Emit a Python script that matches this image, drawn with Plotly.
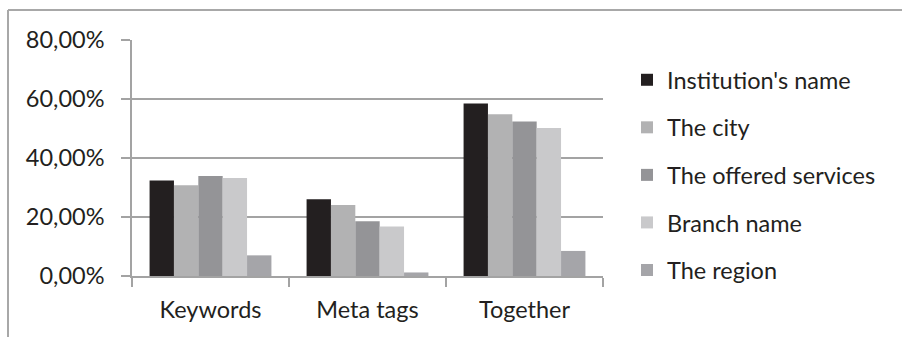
import plotly.graph_objects as go

# Share of institutions by where each item appears
categories = ["Keywords", "Meta tags", "Together"]
series_names = ["Institution's name", "The city", "The offered services",
                "Branch name", "The region"]
values = {
    "Institution's name": [32.4, 26.0, 58.5],
    "The city": [30.8, 24.1, 54.8],
    "The offered services": [33.9, 18.6, 52.4],
    "Branch name": [33.2, 16.8, 50.2],
    "The region": [7.0, 1.2, 8.5],
}
colors = {
    "Institution's name": "#231f20",
    "The city": "#b2b2b3",
    "The offered services": "#949497",
    "Branch name": "#c9c9cb",
    "The region": "#a5a5a9",
}
y_ticks = [0, 20, 40, 60, 80]
y_tick_text = ["0,00%", "20,00%", "40,00%", "60,00%", "80,00%"]

FONT = "Lato, 'Open Sans', sans-serif"
FS = 23.5
TEXT = "#231f20"
GRID = "#a3a3a3"

fig = go.Figure()
for name in series_names:
    fig.add_trace(go.Bar(
        name=name, x=categories, y=values[name],
        marker=dict(color=colors[name], line=dict(width=0)),
        legendgroup=name,
    ))

W, H = 902, 337
L, R, T, B = 132, 299, 40, 61
pw, ph = W - L - R, H - T - B


def px_x(p):
    return (p - L) / pw


def px_y(p):
    return (H - B - p) / ph


fig.update_layout(
    width=W, height=H,
    margin=dict(l=L, r=R, t=T, b=B, pad=0),
    paper_bgcolor="white", plot_bgcolor="white",
    barmode="group", bargap=0.224, bargroupgap=0,
    font=dict(family=FONT, size=FS, color=TEXT),
    showlegend=True,
    legend=dict(
        x=px_x(627), y=px_y(58), xanchor="left", yanchor="top",
        font=dict(family=FONT, size=FS, color=TEXT),
        tracegroupgap=14, bgcolor="rgba(0,0,0,0)",
        maxheight=320,
    ),
    xaxis=dict(
        showline=True, linecolor=GRID, linewidth=1.5,
        ticks="outside", tickson="boundaries", ticklen=9,
        tickcolor=GRID, tickwidth=1.5, showgrid=False,
        ticklabelstandoff=12,
        tickfont=dict(family=FONT, size=FS, color=TEXT),
        fixedrange=True,
    ),
    yaxis=dict(
        range=[0, 80], tickvals=y_ticks, ticktext=y_tick_text,
        showline=True, linecolor=GRID, linewidth=1.5,
        ticks="outside", ticklen=9, tickcolor=GRID, tickwidth=1.5,
        showgrid=True, gridcolor=GRID, gridwidth=1.5,
        zeroline=False, ticklabelstandoff=12,
        tickfont=dict(family=FONT, size=FS, color=TEXT),
        fixedrange=True,
    ),
    shapes=[
        # chart frame: top and left edges
        dict(type="line", xref="paper", yref="paper",
             x0=px_x(8), x1=px_x(W), y0=px_y(10), y1=px_y(10),
             line=dict(color="#a8a8a8", width=2)),
        dict(type="line", xref="paper", yref="paper",
             x0=px_x(8), x1=px_x(8), y0=px_y(10), y1=px_y(H),
             line=dict(color="#a8a8a8", width=2)),
    ],
)

fig.write_html("out.html")
